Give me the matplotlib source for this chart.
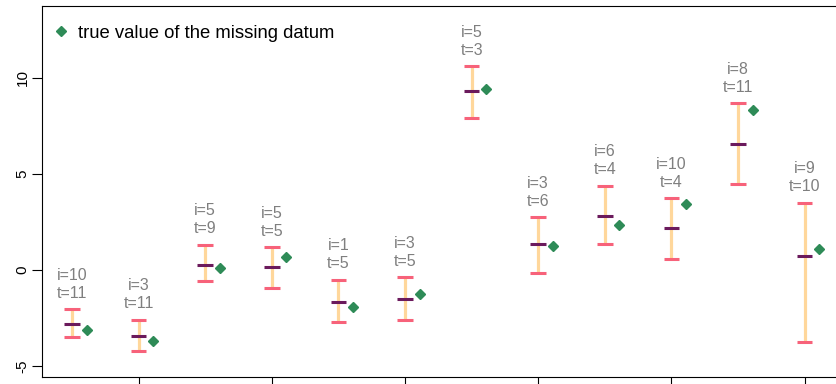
import matplotlib.pyplot as plt
from matplotlib.lines import Line2D

# One interval per imputed datum: bounds, point estimate, and the held-out true value
idx = list(range(1, 13))
upper = [-2.02, -2.57, 1.32, 1.18, -0.49, -0.37, 10.60, 2.74, 4.39, 3.74, 8.66, 3.50]
estimate = [-2.80, -3.41, 0.25, 0.15, -1.68, -1.50, 9.30, 1.37, 2.79, 2.20, 6.57, 0.73]
lower = [-3.49, -4.22, -0.58, -0.93, -2.69, -2.57, 7.92, -0.15, 1.35, 0.60, 4.48, -3.74]
true_value = [-3.13, -3.69, 0.09, 0.70, -1.94, -1.22, 9.42, 1.23, 2.32, 3.46, 8.32, 1.11]
i_labels = ['i=10', 'i=3', 'i=5', 'i=5', 'i=1', 'i=3', 'i=5', 'i=3', 'i=6', 'i=10', 'i=8', 'i=9']
t_labels = ['t=11', 't=11', 't=9', 't=5', 't=5', 't=5', 't=3', 't=6', 't=4', 't=4', 't=11', 't=10']
y_ticks = [-5, 0, 5, 10]
x_ticks = [2, 4, 6, 8, 10, 12]

plt.rcParams['font.family'] = ['Liberation Sans', 'DejaVu Sans']

CAP = '#f7627a'
STEM = '#ffd79b'
MID = '#6b1a5c'
TRUE = '#2e8b57'
GREY = '#7f7f7f'

fig = plt.figure(figsize=(8.37, 3.84), dpi=100)
ax = fig.add_axes([42 / 837, 7 / 384, 0.9787, 371 / 384])

half = 0.118
ax.vlines(idx, lower, upper, colors=STEM, linewidth=2.3, zorder=1)
ax.hlines(upper, [x - half for x in idx], [x + half for x in idx], colors=CAP, linewidth=2.2, zorder=2)
ax.hlines(lower, [x - half for x in idx], [x + half for x in idx], colors=CAP, linewidth=2.2, zorder=2)
ax.hlines(estimate, [x - half for x in idx], [x + half for x in idx], colors=MID, linewidth=2.2, zorder=3)
ax.plot([x + 0.22 for x in idx], true_value, 'D', color=TRUE, markersize=5, linestyle='none', zorder=4)

for x, up, il, tl in zip(idx, upper, i_labels, t_labels):
    ax.annotate(tl, (x, up), xytext=(0, 11.5), textcoords='offset points',
                ha='center', va='center', color=GREY, fontsize=11.5)
    ax.annotate(il, (x, up), xytext=(0, 24.5), textcoords='offset points',
                ha='center', va='center', color=GREY, fontsize=11.5)

ax.set_xlim(0.55, 12.85)
ax.set_ylim(-5.55, 13.72)
ax.set_yticks(y_ticks)
ax.set_yticklabels([str(v) for v in y_ticks], rotation=90, va='center')
ax.set_xticks(x_ticks)
ax.set_xticklabels([])
ax.tick_params(direction='out', length=7, width=0.8, labelsize=11, pad=2)

legend_handle = Line2D([], [], marker='D', color=TRUE, markersize=5, linestyle='none')
ax.legend([legend_handle], ['true value of the missing datum'], loc='upper left',
          bbox_to_anchor=(-0.004, 0.984), frameon=False, fontsize=13.3, handlelength=1,
          handletextpad=0.45, borderaxespad=0.3)

fig.savefig('out.png', dpi=100)
